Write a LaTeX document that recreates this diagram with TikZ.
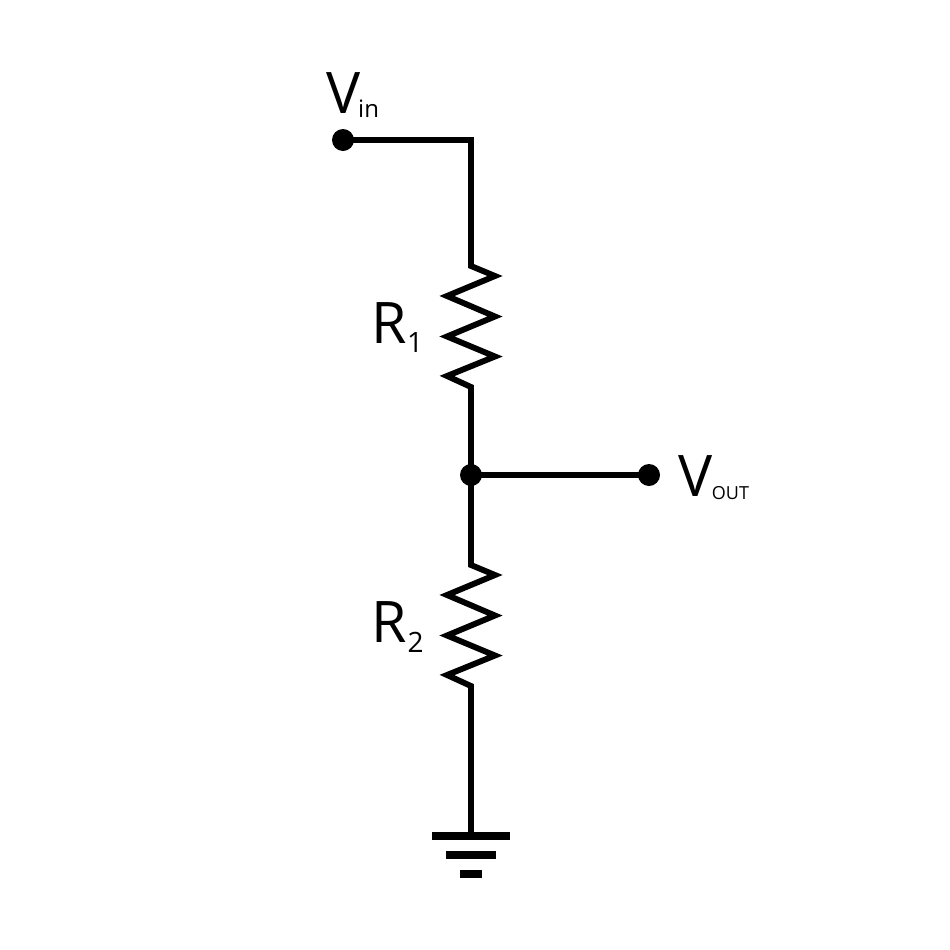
\documentclass[tikz,border=0pt]{standalone}
\usepackage{fontspec}
\setmainfont{Open Sans}
\newcommand{\lbl}[5]{\fontsize{#1}{#1}\selectfont #2\kern#3\raisebox{#4}{\fontsize{#5}{#5}\selectfont\lblsub}}
\newcommand{\lblsub}{}
\newcommand{\mklabel}[6]{\renewcommand{\lblsub}{#6}\lbl{#1}{#2}{#3}{#4}{#5}}
\tikzset{
  wire/.style={line width=4.4pt,line join=miter,line cap=butt,black},
  dot/.style={circle,fill=black,draw=none,minimum size=16.5pt,inner sep=0pt,outer sep=0pt},
  txt/.style={anchor=base west,inner sep=0pt,outer sep=0pt,text=black},
  gbar/.style={fill=black,draw=none}
}
\begin{document}
\begin{tikzpicture}[x=0.75pt,y=-0.75pt]
\useasboundingbox (0,0) rectangle (950,950);
\fill[white] (0,0) rectangle (950,950);
% terminals and junction
\node[dot] (vin) at (343,140) {};
\node[dot] (mid) at (471,475) {};
\node[dot] (vout) at (649,475) {};
\coordinate (corner) at (471,140);
\coordinate (r1t) at (471,266);
\coordinate (r1b) at (471,387);
\coordinate (r2t) at (471,565);
\coordinate (r2b) at (471,686);
\coordinate (gnd) at (471,835);
% wires with resistors
\draw[wire] (vin.center) -- (corner) -- (r1t) -- ++(24,10) -- ++(-48,20) -- ++(48,20.5) -- ++(-48,20) -- ++(48,20) -- ++(-48,19.5) -- (r1b) -- (mid.center);
\draw[wire] (mid.center) -- (vout.center);
\draw[wire] (mid.center) -- (r2t) -- ++(24,10) -- ++(-48,20) -- ++(48,20.5) -- ++(-48,20) -- ++(48,20) -- ++(-48,19.5) -- (r2b) -- (gnd);
% ground
\fill[gbar] (432,832) rectangle (510,839.5);
\fill[gbar] (446,851) rectangle (496,858.5);
\fill[gbar] (459.5,870) rectangle (482,877.5);
% labels
\node[txt] (lvin) at (326.5,113) {\mklabel{43pt}{V}{-1.8pt}{-3pt}{18pt}{in}};
\node[txt] (lr1) at (371,343) {\mklabel{43pt}{R}{0.5pt}{-7pt}{21pt}{1}};
\node[txt] (lr2) at (371,642) {\mklabel{43pt}{R}{0.8pt}{-7.5pt}{21pt}{2}};
\node[txt] (lvout) at (678.5,496) {\mklabel{43pt}{V}{-0.5pt}{-2.5pt}{13.5pt}{OUT}};
\end{tikzpicture}
\end{document}
